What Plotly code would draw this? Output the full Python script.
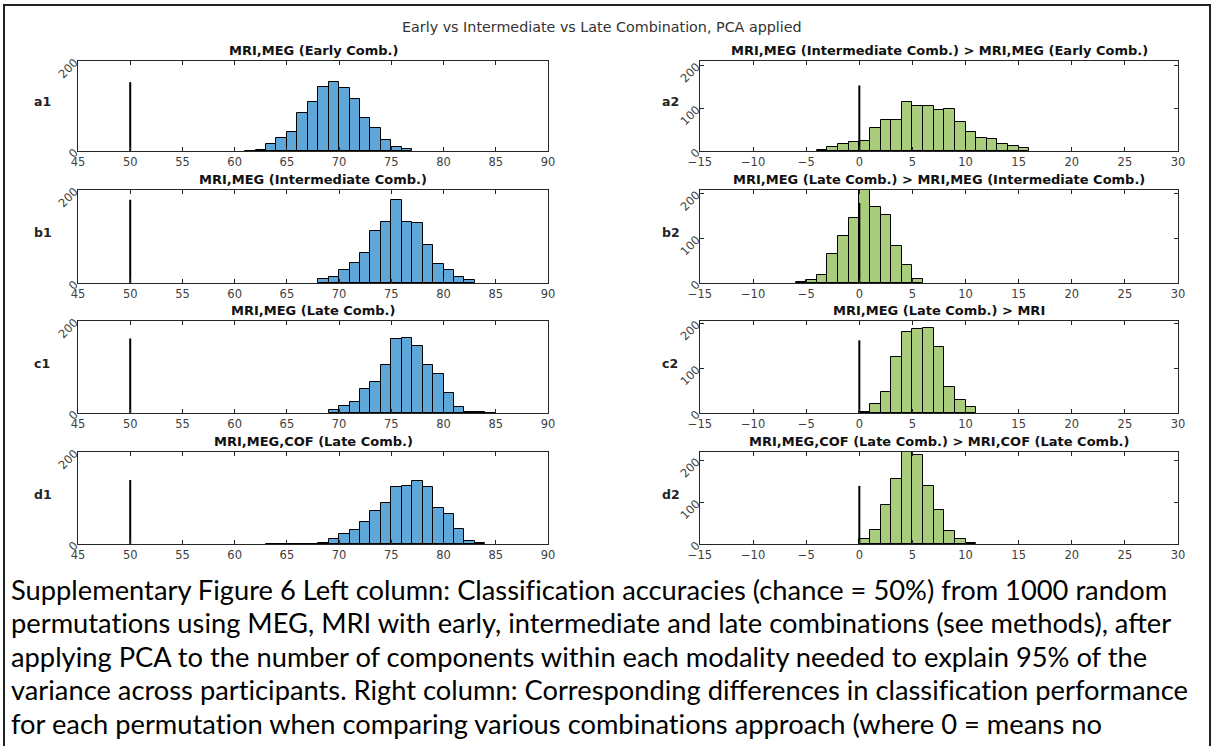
import plotly.graph_objects as go

W, H = 1212, 746

# ---------------- data ----------------
main_title = "Early vs Intermediate vs Late Combination, PCA applied"

panel_titles = [
    "MRI,MEG (Early Comb.)",
    "MRI,MEG (Intermediate Comb.) > MRI,MEG (Early Comb.)",
    "MRI,MEG (Intermediate Comb.)",
    "MRI,MEG (Late Comb.) > MRI,MEG (Intermediate Comb.)",
    "MRI,MEG (Late Comb.)",
    "MRI,MEG (Late Comb.) > MRI",
    "MRI,MEG,COF (Late Comb.)",
    "MRI,MEG,COF (Late Comb.) > MRI,COF (Late Comb.)",
]
panel_labels = ["a1", "a2", "b1", "b2", "c1", "c2", "d1", "d2"]

# left bin edges (bin width 1) and counts
a1_bins = [61, 62, 63, 64, 65, 66, 67, 68, 69, 70, 71, 72, 73, 74, 75, 76]
a1_counts = [1, 2, 15, 28, 42, 84, 110, 143, 154, 140, 116, 73, 51, 24, 8, 4]

a2_bins = [-4, -3, -2, -1, 0, 1, 2, 3, 4, 5, 6, 7, 8, 9, 10, 11, 12, 13, 14, 15]
a2_counts = [2, 9, 16, 21, 24, 53, 72, 72, 114, 104, 104, 95, 99, 67, 44, 31, 29, 16, 11, 7]

b1_bins = [68, 69, 70, 71, 72, 73, 74, 75, 76, 77, 78, 79, 80, 81, 82]
b1_counts = [8, 12, 27, 43, 65, 112, 132, 179, 132, 129, 81, 41, 29, 12, 6]

b2_bins = [-6, -5, -4, -3, -2, -1, 0, 1, 2, 3, 4, 5]
b2_counts = [2, 7, 17, 64, 105, 145, 209, 170, 151, 83, 41, 9]

c1_bins = [69, 70, 71, 72, 73, 74, 75, 76, 77, 78, 79, 80, 81, 82, 83, 84]
c1_counts = [7, 15, 24, 52, 68, 104, 161, 163, 145, 104, 85, 44, 12, 3, 3, 1]

c2_bins = [0, 1, 2, 3, 4, 5, 6, 7, 8, 9, 10]
c2_counts = [2, 20, 47, 124, 181, 188, 190, 146, 58, 29, 13]

d1_bins = [63, 64, 65, 66, 67, 68, 69, 70, 71, 72, 73, 74, 75, 76, 77, 78, 79, 80, 81, 82, 83]
d1_counts = [1, 1, 0, 1, 1, 3, 11, 21, 31, 48, 72, 90, 125, 127, 138, 123, 79, 65, 32, 7, 3]

d2_bins = [0, 1, 2, 3, 4, 5, 6, 7, 8, 9, 10]
d2_counts = [12, 34, 94, 156, 225, 213, 138, 81, 32, 13, 2]

# chance / zero reference line (position, height) per row
left_line_x = 50
right_line_x = 0
line_heights = [153, 179, 162, 139]

left_xrange = [45, 90]
right_xrange = [-15, 30]
left_xticks = [45, 50, 55, 60, 65, 70, 75, 80, 85, 90]
right_xticks = [-15, -10, -5, 0, 5, 10, 15, 20, 25, 30]
left_yticks = [0, 200]
right_yticks = [0, 100, 200]
left_ymax = [200, 200, 200, 200]
right_ymax = [210, 208, 205, 220]

caption_lines = [
    "Supplementary Figure 6 Left column: Classification accuracies (chance = 50%) from 1000 random",
    "permutations using MEG, MRI with early, intermediate and late combinations (see methods), after",
    "applying PCA to the number of components within each modality needed to explain 95% of the",
    "variance across participants. Right column: Corresponding differences in classification performance",
    "for each permutation when comparing various combinations approach (where 0 = means no",
]

# ---------------- style ----------------
BLUE = "#5fa7d9"
GREEN = "#a9cd7c"
TICK_COLOR = "#404040"
AX_FONT = "DejaVu Sans"

left_px = (78, 548)
right_px = (700, 1178)
rows_px = [(61, 151), (190, 283), (321, 413), (452, 544)]


def px_x(p):
    return p / W


def px_y(p):
    return 1 - p / H


def no_lig(s):
    # break "ti"/"fi" style ligatures with a zero-width non-joiner
    return s.replace("ti", "t\u200ci").replace("fi", "f\u200ci")


series = [
    (a1_bins, a1_counts), (a2_bins, a2_counts),
    (b1_bins, b1_counts), (b2_bins, b2_counts),
    (c1_bins, c1_counts), (c2_bins, c2_counts),
    (d1_bins, d1_counts), (d2_bins, d2_counts),
]

fig = go.Figure()
annotations = []
layout_axes = {}

for i, (bins, counts) in enumerate(series):
    row = i // 2
    col = i % 2
    n = i + 1
    xa = "x" if n == 1 else f"x{n}"
    ya = "y" if n == 1 else f"y{n}"
    color = BLUE if col == 0 else GREEN
    centers = [b + 0.5 for b in bins]
    fig.add_trace(go.Bar(
        x=centers, y=counts, width=1,
        marker=dict(color=color, line=dict(color="black", width=1)),
        xaxis=xa, yaxis=ya, showlegend=False, hoverinfo="x+y",
    ))
    lx = left_line_x if col == 0 else right_line_x
    fig.add_trace(go.Scatter(
        x=[lx, lx], y=[0, line_heights[row]], mode="lines",
        line=dict(color="black", width=2),
        xaxis=xa, yaxis=ya, showlegend=False, hoverinfo="skip",
    ))

    xp = left_px if col == 0 else right_px
    top, bot = rows_px[row]
    xdom = [px_x(xp[0]), px_x(xp[1])]
    ydom = [px_y(bot), px_y(top)]
    common = dict(
        showline=True, linecolor="#262626", linewidth=1, mirror="ticks",
        ticks="inside", ticklen=4, tickcolor="#262626", showgrid=False,
        zeroline=False, tickfont=dict(family=AX_FONT, size=11.5, color=TICK_COLOR),
        automargin=False,
    )
    layout_axes["xaxis" if n == 1 else f"xaxis{n}"] = dict(
        domain=xdom, anchor=ya,
        range=left_xrange if col == 0 else right_xrange,
        tickvals=left_xticks if col == 0 else right_xticks,
        **common,
    )
    layout_axes["yaxis" if n == 1 else f"yaxis{n}"] = dict(
        domain=ydom, anchor=xa,
        range=[0, left_ymax[row] if col == 0 else right_ymax[row]],
        tickvals=left_yticks if col == 0 else right_yticks,
        tickangle=-45,
        **common,
    )

    # panel title
    annotations.append(dict(
        text=f"<b>{panel_titles[i]}</b>", x=(xdom[0] + xdom[1]) / 2, y=px_y(top - 1),
        xref="paper", yref="paper", xanchor="center", yanchor="bottom",
        showarrow=False, font=dict(family=AX_FONT, size=13, color="#111"),
    ))
    # row label
    annotations.append(dict(
        text=f"<b>{panel_labels[i]}</b>",
        x=px_x(32 if col == 0 else 660), y=px_y((top + bot) / 2 - 4),
        xref="paper", yref="paper", xanchor="left", yanchor="middle",
        showarrow=False, font=dict(family=AX_FONT, size=12.5, color="#222"),
    ))

# main title
annotations.append(dict(
    text=main_title, x=px_x(602), y=px_y(27), xref="paper", yref="paper",
    xanchor="center", yanchor="middle", showarrow=False,
    font=dict(family=AX_FONT, size=14.3, color="#333"),
))

# caption
cap_y = [589, 622, 656, 689, 723]
for t, yy in zip(caption_lines, cap_y):
    annotations.append(dict(
        text=no_lig(t), x=px_x(9), y=px_y(yy), xref="paper", yref="paper",
        xanchor="left", yanchor="middle", showarrow=False,
        font=dict(family="Lato", size=27.3, color="black"),
    ))

shapes = [dict(
    type="rect", xref="paper", yref="paper",
    x0=px_x(4), x1=px_x(1210), y0=px_y(760), y1=px_y(5),
    line=dict(color="#222", width=2), fillcolor="rgba(0,0,0,0)", layer="above",
)]

fig.update_layout(
    width=W, height=H,
    margin=dict(l=0, r=0, t=0, b=0, pad=0),
    paper_bgcolor="white", plot_bgcolor="white",
    bargap=0, annotations=annotations, shapes=shapes,
    **layout_axes,
)

fig.write_html(
    "out.html",
    config={"displayModeBar": False},
    post_script="document.body.style.margin='0';document.body.style.overflow='hidden';",
)
